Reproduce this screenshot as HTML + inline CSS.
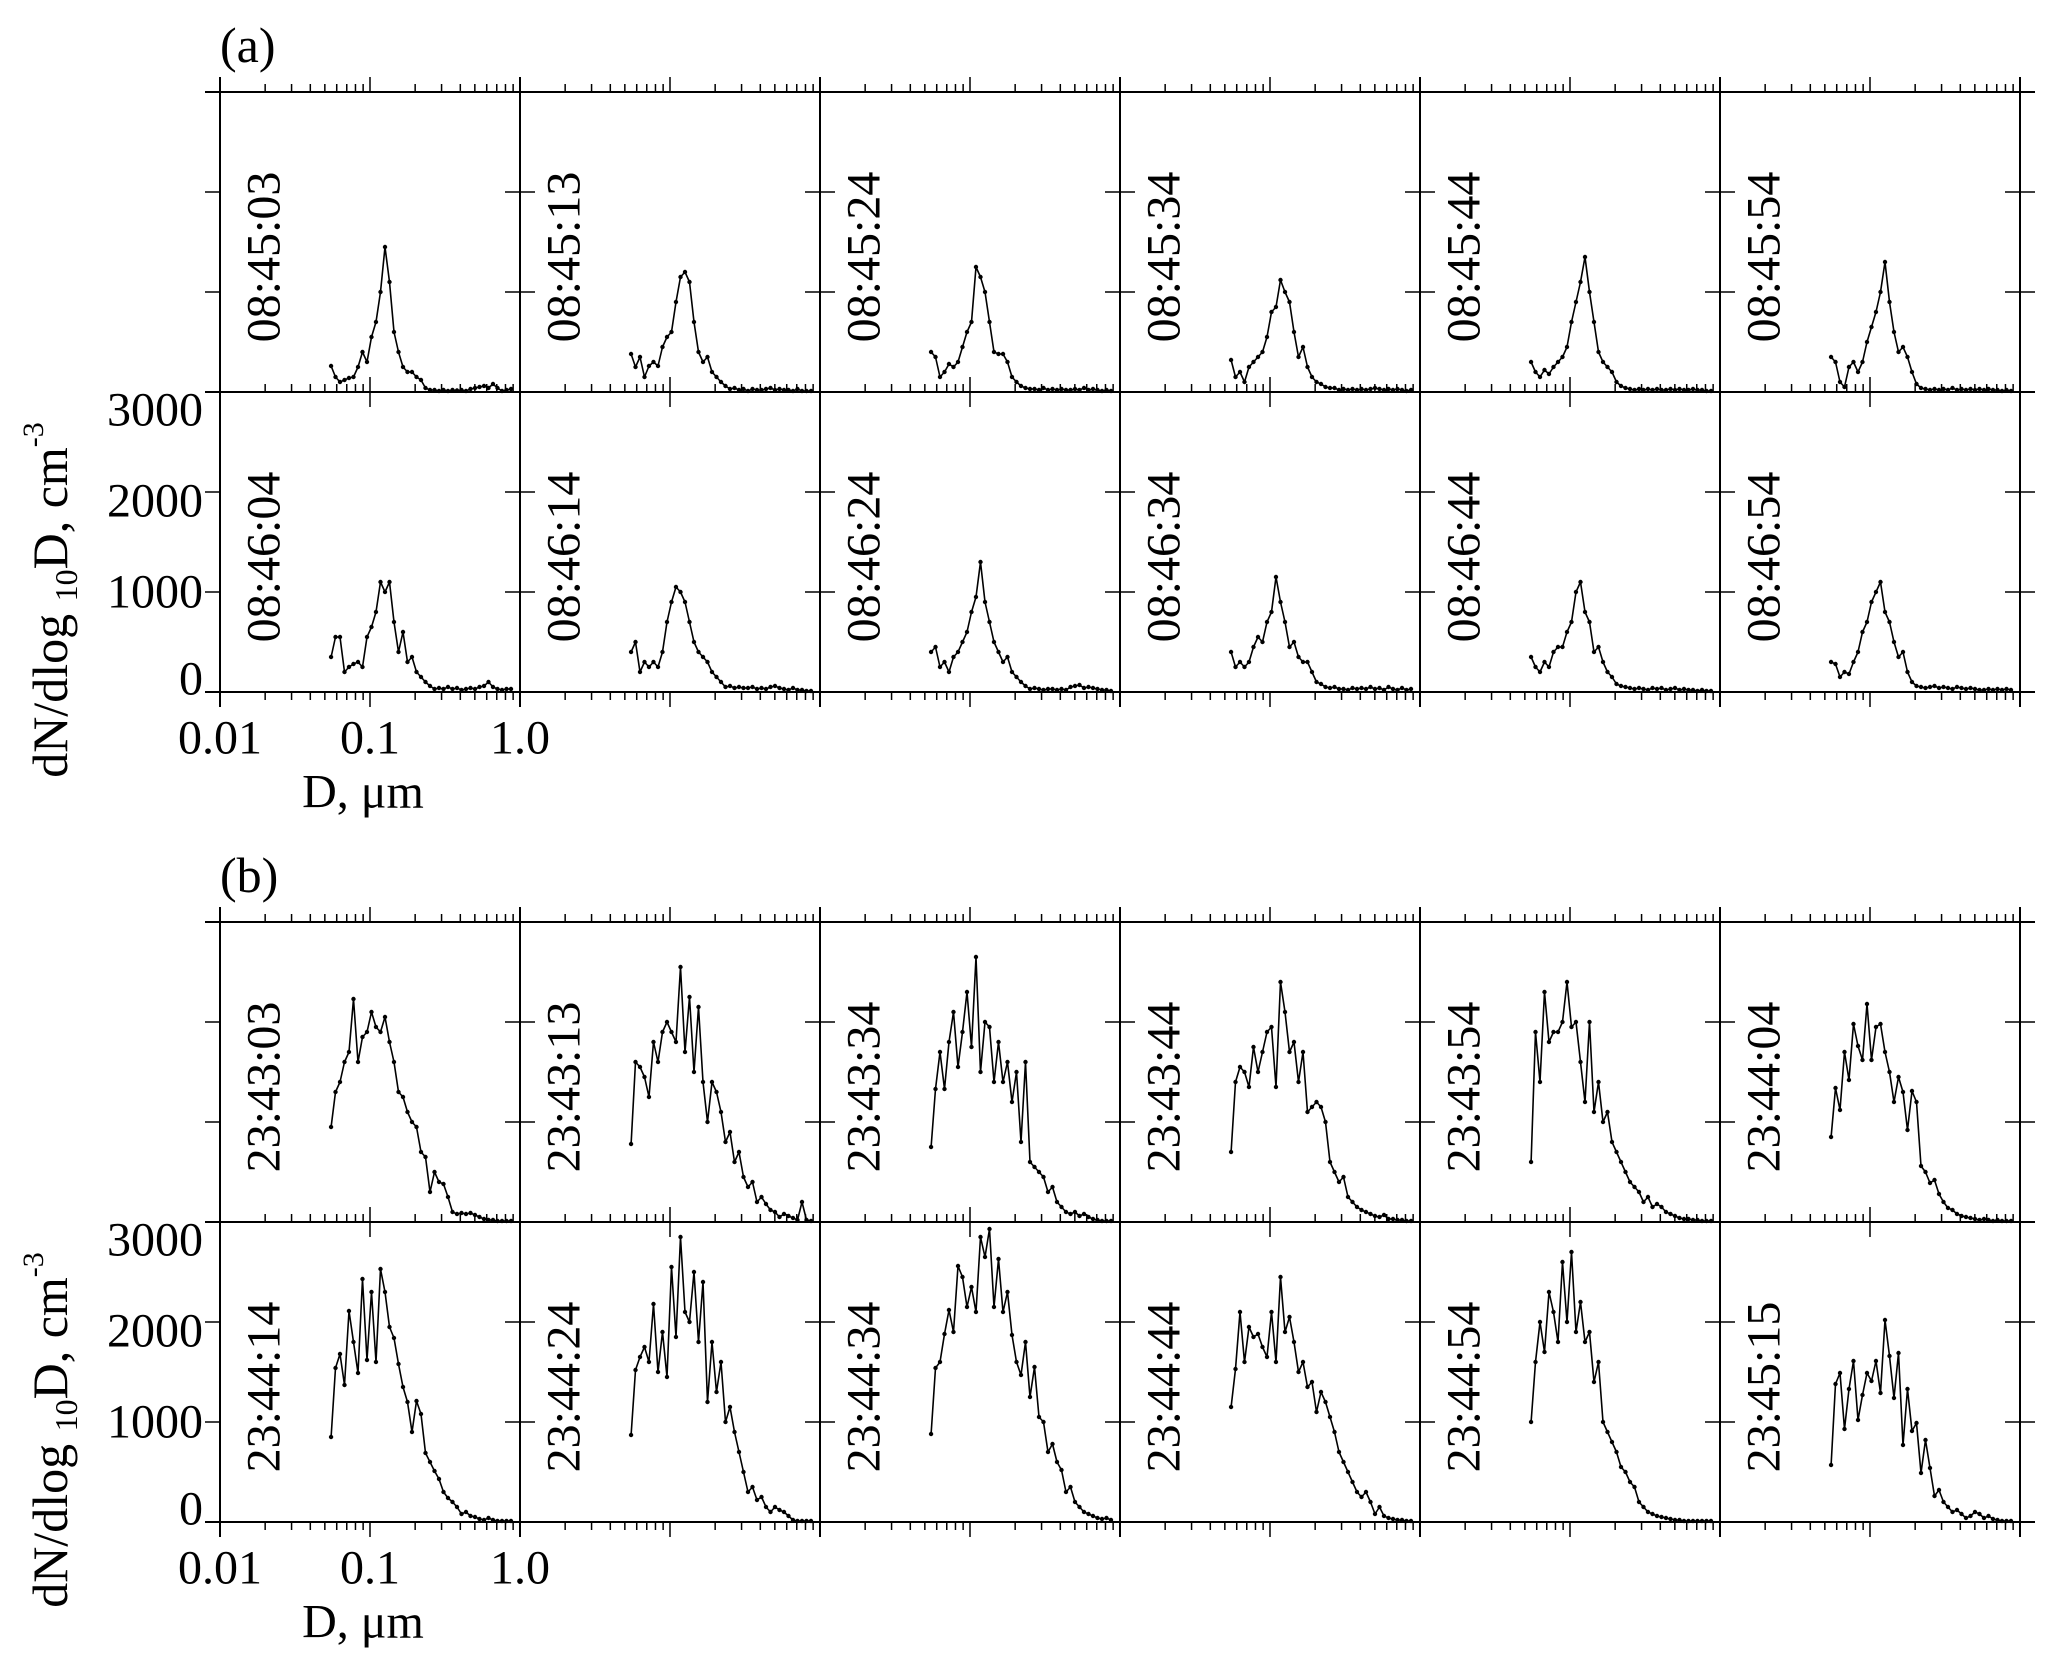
<!DOCTYPE html>
<html><head><meta charset="utf-8"><style>
html,body{margin:0;padding:0;background:#fff;}
svg{display:block;font-family:"Liberation Serif",serif;}
</style></head><body>
<svg id="chart" width="2059" height="1675" viewBox="0 0 2059 1675" xmlns="http://www.w3.org/2000/svg">
<g id="axes"></g>
<g id="series"></g>
<g id="labels"></g>
</svg>
<script>
const diameters=[0.0550,0.0589,0.0631,0.0676,0.0724,0.0776,0.0832,0.0891,0.0955,0.1023,0.1096,0.1175,0.1259,0.1349,0.1445,0.1549,0.1660,0.1778,0.1905,0.2042,0.2188,0.2344,0.2512,0.2692,0.2884,0.3090,0.3311,0.3548,0.3802,0.4074,0.4365,0.4677,0.5012,0.5370,0.5754,0.6166,0.6607,0.7079,0.7586,0.8128,0.8710];
const yTicks=[0,1000,2000,3000];
const yTickLabels=["0","1000","2000","3000"];
const xTickLabels=["0.01","0.1","1.0"];
const timesA=["08:45:03","08:45:13","08:45:24","08:45:34","08:45:44","08:45:54","08:46:04","08:46:14","08:46:24","08:46:34","08:46:44","08:46:54"];
const timesB=["23:43:03","23:43:13","23:43:34","23:43:44","23:43:54","23:44:04","23:44:14","23:44:24","23:44:34","23:44:44","23:44:54","23:45:15"];
const seriesA=[
[260,150,100,120,140,150,250,400,300,550,700,1000,1450,1100,600,400,250,200,200,150,120,40,20,20,10,20,10,20,15,20,10,30,40,50,60,40,80,40,10,20,30],
[380,250,350,150,260,300,260,450,550,600,900,1150,1200,1100,700,400,300,350,200,150,100,60,30,40,20,30,10,30,20,20,30,40,20,30,20,20,10,30,10,10,10],
[400,350,150,200,280,250,300,450,600,700,1250,1150,1000,700,400,380,380,300,150,100,60,40,30,30,20,40,20,30,20,30,20,20,30,20,40,20,30,20,10,20,10],
[320,150,200,100,250,300,350,400,550,800,850,1120,1000,900,600,350,450,250,150,100,80,50,40,40,20,30,20,30,20,30,20,30,40,30,20,30,20,30,20,10,20],
[300,200,150,220,180,250,300,350,450,700,900,1100,1350,1000,700,400,300,250,200,100,60,40,30,20,30,20,30,20,30,20,20,30,20,30,20,20,30,20,20,10,10],
[350,300,100,50,250,300,200,300,500,650,800,1000,1300,900,600,400,450,350,200,80,40,30,20,30,20,30,20,40,20,30,20,30,20,30,20,30,20,20,10,20,10],
[350,550,550,200,250,280,300,250,550,650,800,1100,1000,1100,700,400,600,300,350,200,150,100,60,30,40,30,50,30,40,20,30,40,30,50,60,100,50,30,20,30,30],
[400,500,200,300,250,300,250,400,700,900,1050,1000,900,700,500,400,350,300,200,150,100,50,60,40,50,40,40,50,30,40,30,50,60,40,30,20,40,20,20,10,10],
[400,450,250,300,200,350,400,500,600,800,950,1300,900,700,500,400,300,350,200,150,100,60,30,40,30,20,30,30,20,30,20,50,60,70,40,50,40,30,20,20,10],
[400,250,300,250,300,450,550,500,700,800,1150,900,700,450,500,350,300,300,200,100,80,50,40,50,30,30,20,40,30,40,30,50,30,40,20,50,30,20,40,20,30],
[350,250,200,300,250,400,450,450,600,700,1000,1100,800,700,400,450,300,200,150,80,60,50,40,30,40,30,20,40,30,40,20,30,40,20,30,20,20,10,20,10,10],
[300,280,150,200,180,300,400,600,700,900,1000,1100,800,700,500,350,400,200,100,60,50,40,50,60,40,50,40,30,50,40,30,40,30,20,20,30,20,30,20,30,20]];
const seriesB=[
[950,1300,1400,1600,1700,2230,1600,1850,1900,2100,1950,1900,2050,1800,1600,1300,1250,1100,1000,950,700,650,300,500,400,380,250,100,80,90,80,90,70,50,30,20,20,10,10,10,10],
[780,1600,1550,1450,1250,1800,1600,1900,2000,1900,1800,2550,1700,2250,1500,2150,1400,1000,1400,1300,1100,800,900,600,700,450,350,400,200,250,180,120,100,50,80,60,40,20,200,20,10],
[750,1330,1700,1330,1800,2100,1550,1900,2300,1750,2650,1500,2000,1950,1400,1800,1400,1600,1200,1500,800,1600,600,550,500,450,300,350,200,150,100,80,100,60,80,50,30,20,10,10,10],
[700,1400,1550,1500,1350,1750,1500,1700,1900,1950,1350,2400,2100,1700,1800,1400,1700,1100,1150,1200,1150,1000,600,500,400,450,250,200,150,120,100,80,60,50,70,30,30,20,20,10,10],
[600,1900,1400,2300,1800,1900,1900,2000,2400,1950,2000,1600,1200,2000,1100,1400,1000,1100,800,700,600,500,400,350,300,200,250,150,180,150,100,80,60,40,30,30,20,20,10,10,10],
[850,1340,1120,1700,1420,1980,1760,1620,2180,1620,1950,1980,1700,1500,1200,1450,1300,920,1310,1200,560,500,390,420,280,200,140,120,80,60,50,40,30,20,30,20,10,20,10,10,10],
[850,1540,1680,1370,2110,1800,1490,2430,1620,2300,1600,2530,2300,1950,1840,1580,1350,1200,900,1210,1080,690,600,510,430,300,240,200,150,80,100,60,50,30,20,40,20,10,10,10,10],
[870,1520,1650,1750,1600,2180,1500,1900,1450,2550,1850,2850,2100,2000,2500,1800,2400,1200,1800,1300,1600,1000,1150,900,700,500,300,350,220,250,150,100,150,120,100,60,20,10,10,10,10],
[880,1540,1600,1880,2120,1900,2560,2450,2150,2350,2100,2850,2650,2930,2150,2630,2100,2300,1870,1600,1470,1800,1250,1550,1050,1000,700,780,600,520,300,350,200,150,100,80,60,40,30,40,20],
[1150,1530,2100,1600,1950,1850,1880,1750,1650,2100,1600,2450,1900,2050,1800,1500,1600,1350,1400,1100,1300,1200,1050,900,700,600,500,400,300,250,300,200,80,150,60,40,30,20,20,10,10],
[1000,1600,2000,1700,2300,2100,1800,2600,2000,2700,1900,2200,1800,1900,1400,1600,1000,900,800,700,550,500,400,350,200,150,100,80,60,50,40,30,20,20,10,10,10,10,10,10,10],
[570,1380,1490,930,1330,1610,1020,1270,1490,1410,1610,1290,2020,1660,1240,1690,770,1330,910,990,490,820,540,260,320,200,150,100,120,80,40,60,100,80,40,60,30,20,10,10,10]];

const NS="http://www.w3.org/2000/svg";
const axesG=document.getElementById('axes'),serG=document.getElementById('series'),labG=document.getElementById('labels');
const LEFT=220,PW=300,PH=300,DEC=150;
function mk(tag,attrs,parent){const e=document.createElementNS(NS,tag);for(const k in attrs)e.setAttribute(k,attrs[k]);parent.appendChild(e);return e;}
function xS(x0,d){return x0+(Math.log10(d)+2)*DEC;}
function yS(yb,v){return yb-v*PH/3000;}
function line(x1,y1,x2,y2,w,parent,name){const l=mk('line',{x1:x1,y1:y1,x2:x2,y2:y2,stroke:'#000','stroke-width':w},parent);return l;}
function txt(x,y,s,size,parent,name,extra){const t=mk('text',Object.assign({x:x,y:y,'font-size':size,fill:'#000'},extra||{}),parent);t.textContent=s;return t;}

function drawGroup(top,letter,times,series){
  const lines=[top,top+PH,top+2*PH];
  lines.forEach((y,i)=>{line(LEFT-15,y,LEFT+6*PW+15,y,2,axesG,'x-axis-line');});
  for(let c=0;c<=6;c++){const x=LEFT+c*PW;line(x,top-15,x,top+2*PH+15,2,axesG,'y-axis-line');
    for(let r=0;r<2;r++){[1000,2000].forEach(v=>{const y=yS(top+(r+1)*PH,v);line(x-15,y,c===0?x:x+15,y,1.5,axesG,'y-tick');});}
  }
  for(let c=0;c<6;c++){const x0=LEFT+c*PW;
    for(let dec=-2;dec<0;dec++){for(let m=1;m<=9;m++){const d=m*Math.pow(10,dec);const x=xS(x0,d);
      if(m===1&&dec===-2)continue;
      const major=(m===1);
      lines.forEach((y,i)=>{
        if(i===0){line(x,y,x,y-(major?15:8),1.5,axesG,'x-tick');}
        else if(i===1){line(x,y-(major?15:8),x,y+(major?15:0),1.5,axesG,'x-tick');}
        else{line(x,y,x,y+(major?15:8),1.5,axesG,'x-tick');}
      });}}
  }
  txt(LEFT,top-30,'('+letter+')',50,labG,'panel-label-'+letter);
  const yb=top+2*PH;
  const offs=[-13,0,9,18];
  yTicks.forEach((v,i)=>{txt(203,yS(yb,v)+offs[i],yTickLabels[i],48,labG,'y-tick-label',{'text-anchor':'end','dominant-baseline':'central'});});
  xTickLabels.forEach((s,i)=>{txt(LEFT+i*DEC,yb+46,s,48,labG,'x-tick-label',{'text-anchor':'middle','dominant-baseline':'central'});});
  txt(363,yb+100,'D, \u03bcm',48,labG,'x-axis-title',{'text-anchor':'middle','dominant-baseline':'central'});
  const cy=top+508;
  const t=mk('text',{x:0,y:0,'font-size':50,'text-anchor':'middle',transform:'translate(67,'+cy+') rotate(-90)'},labG);
  
  
  const s1=mk('tspan',{},t);s1.textContent='dN/dlog ';
  const s2=mk('tspan',{'font-size':32,dy:10},t);s2.textContent='10';
  const s3=mk('tspan',{dy:-10},t);s3.textContent='D, cm';
  const s4=mk('tspan',{'font-size':30,dy:-24},t);s4.textContent='-3';
  series.forEach((vals,k)=>{
    const c=k%6,r=Math.floor(k/6);const x0=LEFT+c*PW,ybot=top+(r+1)*PH,ptop=top+r*PH;
    txt(0,0,times[k],48,labG,'time-label',{'text-anchor':'middle','dominant-baseline':'central',transform:'translate('+(x0+44)+','+(ptop+165)+') rotate(-90)'});
    let d='';
    vals.forEach((v,i)=>{d+=(i?'L':'M')+xS(x0,diameters[i]).toFixed(1)+' '+yS(ybot,v).toFixed(1);});
    const p=mk('path',{d:d,fill:'none',stroke:'#000','stroke-width':1.6,'stroke-linejoin':'round'},serG);
    
    
    vals.forEach((v,i)=>{const m=mk('circle',{cx:xS(x0,diameters[i]),cy:yS(ybot,v),r:2.2,fill:'#000'},serG);
      
      });
  });
}
drawGroup(92,'a',timesA,seriesA);
drawGroup(922,'b',timesB,seriesB);
</script>
</body></html>
